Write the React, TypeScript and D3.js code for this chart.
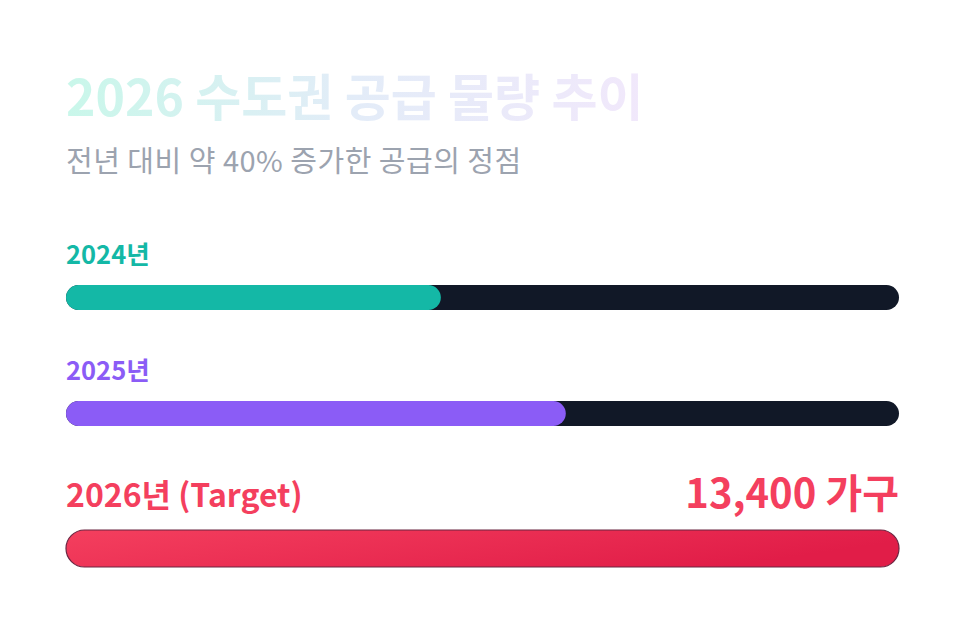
import * as d3 from "d3";

const years = ["2024년", "2025년", "2026년 (Target)"];
const shares = [45, 60, 100]; // % of the 2026 target
const targetLabel = "13,400 가구";
const title = "2026 수도권 공급 물량 추이";
const subtitle = "전년 대비 약 40% 증가한 공급의 정점";

const W = 966;
const H = 644;
const FONT = "'Noto Sans CJK KR', 'Noto Sans', sans-serif";

export default function App() {
  const x = d3.scaleLinear().domain([0, 100]).range([66, 899]);
  const x0 = x(0);
  const trackW = x(100) - x(0);

  return (
    <svg
      width={W}
      height={H}
      style={{ position: "absolute", left: 0, top: 0, background: "#fff" }}
      fontFamily={FONT}
    >
      <defs>
        <linearGradient id="titleGrad" x1="0" x2="1" y1="0" y2="0">
          <stop offset="0%" stopColor="#c9f7ea" />
          <stop offset="50%" stopColor="#e3ecf8" />
          <stop offset="100%" stopColor="#f1e8fb" />
        </linearGradient>
        <linearGradient id="redGrad" x1="0" x2="1" y1="0" y2="0.3">
          <stop offset="0%" stopColor="#f43f5e" />
          <stop offset="100%" stopColor="#e11d48" />
        </linearGradient>
      </defs>

      {/* heading */}
      <text x={66} y={116} fontSize={50} fontWeight={700} fill="url(#titleGrad)">
        {title}
      </text>
      <text x={66} y={172} fontSize={29} letterSpacing={0.5} fill="#9ca3af">
        {subtitle}
      </text>

      {/* 2024 */}
      <text x={66} y={264} fontSize={25.5} fontWeight={700} fill="#14b8a6">
        {years[0]}
      </text>
      <rect x={x0} y={285} width={trackW} height={25} rx={12.5} fill="#111827" />
      <rect x={x0} y={285} width={x(shares[0]) - x0} height={25} rx={12.5} fill="#14b8a6" />

      {/* 2025 */}
      <text x={66} y={380} fontSize={25.5} fontWeight={700} fill="#8b5cf6">
        {years[1]}
      </text>
      <rect x={x0} y={401} width={trackW} height={25} rx={12.5} fill="#111827" />
      <rect x={x0} y={401} width={x(shares[1]) - x0} height={25} rx={12.5} fill="#8b5cf6" />

      {/* 2026 target */}
      <text x={66} y={507} fontSize={32} fontWeight={600} fill="#f43f5e">
        {years[2]}
      </text>
      <text
        x={x(100)}
        y={508}
        fontSize={40}
        fontWeight={700}
        fill="#f43f5e"
        textAnchor="end"
      >
        {targetLabel}
      </text>
      <rect
        x={x0}
        y={530}
        width={x(shares[2]) - x0}
        height={37}
        rx={18.5}
        fill="url(#redGrad)"
        stroke="#6b2440"
        strokeWidth={1.2}
      />
    </svg>
  );
}
